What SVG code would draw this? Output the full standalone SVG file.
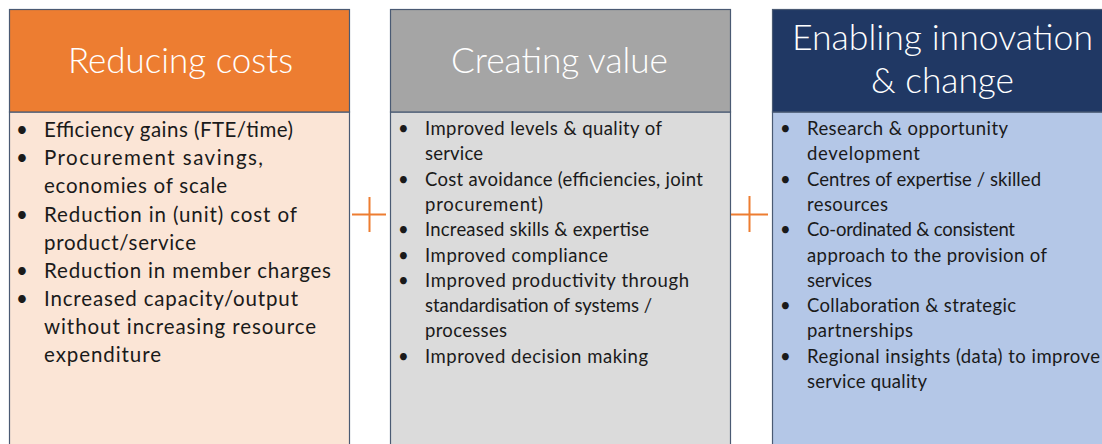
<svg xmlns="http://www.w3.org/2000/svg" width="1102" height="444" viewBox="0 0 1102 444">
<style>
.bd{stroke:#4A5A73;stroke-width:1.2}
.ttl{font-family:Lato,"Liberation Sans",sans-serif;font-weight:300;font-size:35px;fill:#fff;text-anchor:middle}
.t1{font-family:Lato,"Liberation Sans",sans-serif;font-size:20.5px;fill:#1a1a1a}
.t2{font-family:Lato,"Liberation Sans",sans-serif;font-size:18.5px;fill:#1a1a1a}
.plus{stroke:#ED7D31;stroke-width:2;fill:none}
</style>
<rect width="1102" height="444" fill="#fff"/>
<g id="col1">
<rect class="bd" x="9.5" y="112" width="340" height="340" fill="#FBE5D6"/>
<rect class="bd" x="9.5" y="9.5" width="340" height="102.5" fill="#ED7D31"/>
<text class="ttl" x="180.5" y="73" textLength="225" lengthAdjust="spacingAndGlyphs">Reducing costs</text>
<g class="t1" lengthAdjust="spacing">
<text x="16" y="137">•</text><text x="44" y="137" textLength="249">Efficiency gains (FTE/time)</text>
<text x="16" y="165">•</text><text x="44" y="165" textLength="219">Procurement savings,</text>
<text x="44" y="193" textLength="183">economies of scale</text>
<text x="16" y="222">•</text><text x="44" y="222" textLength="253">Reduction in (unit) cost of</text>
<text x="44" y="250" textLength="152">product/service</text>
<text x="16" y="278">•</text><text x="44" y="278" textLength="287">Reduction in member charges</text>
<text x="16" y="306">•</text><text x="44" y="306" textLength="254">Increased capacity/output</text>
<text x="44" y="334" textLength="272">without increasing resource</text>
<text x="44" y="362" textLength="117">expenditure</text>
</g>
</g>
<g id="col2">
<rect class="bd" x="390.5" y="112" width="340" height="340" fill="#DBDBDB"/>
<rect class="bd" x="390.5" y="9.5" width="340" height="102.5" fill="#A5A5A5"/>
<text class="ttl" x="559.5" y="73" textLength="217" lengthAdjust="spacingAndGlyphs">Creating value</text>
<g class="t2">
<text x="398" y="135">•</text><text x="425" y="135" textLength="237">Improved levels &amp; quality of</text>
<text x="425" y="160" textLength="58">service</text>
<text x="398" y="186">•</text><text x="425" y="186" textLength="278">Cost avoidance (efficiencies, joint</text>
<text x="425" y="211" textLength="118">procurement)</text>
<text x="398" y="236">•</text><text x="425" y="236" textLength="224">Increased skills &amp; expertise</text>
<text x="398" y="262">•</text><text x="425" y="262" textLength="183">Improved compliance</text>
<text x="398" y="287">•</text><text x="425" y="287" textLength="264">Improved productivity through</text>
<text x="425" y="312" textLength="227">standardisation of systems /</text>
<text x="425" y="337" textLength="82">processes</text>
<text x="398" y="363">•</text><text x="425" y="363" textLength="223">Improved decision making</text>
</g>
</g>
<g id="col3">
<rect class="bd" x="772.5" y="112" width="340" height="340" fill="#B4C7E7"/>
<rect class="bd" x="772.5" y="9.5" width="340" height="102.5" fill="#203864"/>
<text class="ttl" x="942.5" y="50" textLength="301" lengthAdjust="spacingAndGlyphs">Enabling innovation</text>
<text class="ttl" x="942.5" y="93" textLength="143" lengthAdjust="spacingAndGlyphs">&amp; change</text>
<g class="t2">
<text x="780" y="135">•</text><text x="807" y="135" textLength="201">Research &amp; opportunity</text>
<text x="807" y="160" textLength="113">development</text>
<text x="780" y="186">•</text><text x="807" y="186" textLength="234">Centres of expertise / skilled</text>
<text x="807" y="211" textLength="81">resources</text>
<text x="780" y="236">•</text><text x="807" y="236" textLength="208">Co-ordinated &amp; consistent</text>
<text x="807" y="262" textLength="240">approach to the provision of</text>
<text x="807" y="287" textLength="65">services</text>
<text x="780" y="312">•</text><text x="807" y="312" textLength="209">Collaboration &amp; strategic</text>
<text x="807" y="337" textLength="106">partnerships</text>
<text x="780" y="363">•</text><text x="807" y="363" textLength="293">Regional insights (data) to improve</text>
<text x="807" y="388" textLength="120">service quality</text>
</g>
</g>
<g id="connectors">
<path class="plus" d="M352 214.5H386M369.5 197V232"/>
<path class="plus" d="M731 214.5H768M749.5 196V232"/>
</g>
</svg>
